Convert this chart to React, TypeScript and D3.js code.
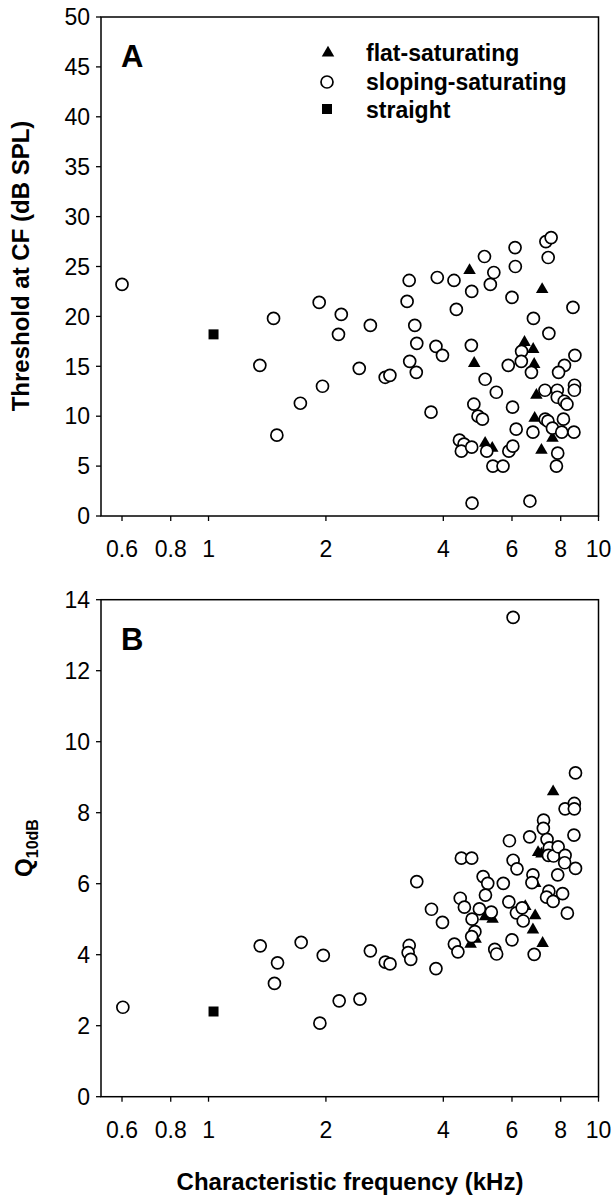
import React from 'react';
import * as d3 from 'd3';

// ---------- data ----------
const xTickValues = [0.6, 0.8, 1, 2, 4, 6, 8, 10];
const xTickLabels = ['0.6', '0.8', '1', '2', '4', '6', '8', '10'];
const thresholdTicks = [0, 5, 10, 15, 20, 25, 30, 35, 40, 45, 50];
const q10Ticks = [0, 2, 4, 6, 8, 10, 12, 14];
const legendLabels = ['flat-saturating', 'sloping-saturating', 'straight'];

// [characteristic frequency (kHz), threshold at CF (dB SPL)]
const flatThreshold: [number, number][] = [
  [4.67, 24.6], [7.17, 22.7], [4.8, 15.3], [6.46, 17.4], [6.8, 16.7], [6.84, 15.2],
  [6.93, 12.1], [6.86, 9.8], [7.62, 7.8], [7.14, 6.6], [5.12, 7.3], [5.34, 6.8],
];
const slopingThreshold: [number, number][] = [
  [0.6, 23.2], [1.354, 15.1], [1.468, 19.8], [1.497, 8.1], [1.72, 11.3], [1.922, 21.4],
  [1.96, 13.0], [2.154, 18.2], [2.19, 20.2], [2.435, 14.8], [2.6, 19.1], [2.838, 13.9],
  [2.918, 14.1], [3.27, 23.6], [3.23, 21.5], [3.38, 19.1], [3.42, 17.3], [3.28, 15.5],
  [3.41, 14.4], [3.86, 23.9], [4.26, 23.6], [3.83, 17.0], [3.98, 16.1], [3.72, 10.4],
  [4.32, 20.7], [5.1, 26.0], [4.73, 22.5], [5.39, 24.4], [5.28, 23.2], [4.72, 17.1],
  [5.12, 13.7], [5.47, 12.4], [4.79, 11.2], [4.91, 10.0], [5.04, 9.7], [4.4, 7.6],
  [4.52, 7.2], [4.45, 6.5], [4.73, 6.9], [5.17, 6.5], [5.36, 5.0], [5.69, 5.0],
  [5.89, 6.5], [6.03, 7.0], [4.74, 1.3], [6.67, 1.5], [6.11, 26.9], [6.12, 25.0],
  [6.0, 21.9], [6.81, 19.8], [6.35, 16.5], [6.34, 15.5], [5.87, 15.1], [6.73, 14.4],
  [6.02, 10.9], [6.15, 8.7], [6.79, 8.4], [7.33, 27.5], [7.56, 27.9], [7.43, 25.9],
  [7.46, 18.3], [8.6, 20.9], [8.7, 16.1], [8.18, 15.1], [7.9, 14.4], [7.29, 12.6],
  [7.84, 12.6], [7.84, 11.9], [8.17, 11.5], [8.3, 11.2], [8.68, 13.1], [8.67, 12.6],
  [7.3, 9.7], [7.42, 9.5], [7.62, 8.8], [8.13, 9.7], [8.05, 8.4], [8.65, 8.4],
  [7.86, 6.3], [7.8, 5.0],
];
const straightThreshold: [number, number][] = [[1.03, 18.2]];

// [characteristic frequency (kHz), Q10dB]
const flatQ10: [number, number][] = [
  [7.65, 8.59], [7.0, 6.88], [7.14, 6.84], [6.88, 5.1], [6.79, 4.7], [7.19, 4.32],
  [5.12, 5.07], [5.35, 5.0], [4.7, 4.3], [6.49, 5.36], [4.84, 4.44], [6.88, 6.01],
];
const slopingQ10: [number, number][] = [
  [0.603, 2.52], [1.357, 4.25], [1.503, 3.77], [1.476, 3.19], [1.728, 4.35], [1.969, 3.98],
  [1.93, 2.07], [2.163, 2.7], [2.445, 2.75], [2.6, 4.11], [2.84, 3.79], [2.92, 3.74],
  [3.27, 4.26], [3.25, 4.06], [3.3, 3.87], [3.42, 6.06], [3.83, 3.61], [3.73, 5.28],
  [3.98, 4.91], [4.27, 4.3], [4.36, 4.08], [4.45, 6.72], [4.73, 6.72], [4.42, 5.59],
  [4.53, 5.34], [4.74, 5.0], [4.82, 4.65], [4.73, 4.51], [4.95, 5.29], [5.06, 6.2],
  [5.2, 6.01], [5.13, 5.68], [5.31, 5.2], [5.42, 4.15], [5.48, 4.02], [5.7, 6.01],
  [5.89, 5.49], [6.0, 4.42], [5.91, 7.21], [6.04, 6.66], [6.18, 6.42], [6.16, 5.18],
  [6.37, 5.32], [6.41, 4.95], [6.66, 7.32], [6.79, 6.25], [6.75, 6.03], [6.84, 4.01],
  [7.23, 7.79], [7.22, 7.56], [7.38, 7.25], [7.48, 7.01], [7.44, 6.8], [7.67, 6.78],
  [7.88, 7.04], [8.21, 6.8], [8.19, 6.59], [7.86, 6.25], [8.73, 6.43], [8.65, 7.37],
  [8.21, 8.11], [8.67, 8.26], [8.67, 8.11], [7.46, 5.79], [7.36, 5.62], [7.65, 5.5],
  [8.09, 5.72], [8.32, 5.17], [8.73, 9.12], [6.04, 13.5],
];
const straightQ10: [number, number][] = [[1.03, 2.4]];

// ---------- layout ----------
const W = 614;
const H = 1200;
const LEFT = 101;
const RIGHT = 598.5;
const FONT = '"Liberation Sans", Arial, Helvetica, sans-serif';

const x = d3.scaleLog().domain([0.53, 10]).range([LEFT, RIGHT]);
const yA = d3.scaleLinear().domain([0, 50]).range([516, 17]);
const yB = d3.scaleLinear().domain([0, 14]).range([1096.7, 599.7]);

const triPath = d3.symbol().type(d3.symbolTriangle).size(68)() as string;
const sqPath = d3.symbol().type(d3.symbolSquare).size(100)() as string;
const CIRCLE_R = 6;

type Pt = [number, number];

function Markers({ flat, sloping, straight, y }: { flat: Pt[]; sloping: Pt[]; straight: Pt[]; y: d3.ScaleLinear<number, number> }) {
  return (
    <g>
      {flat.map((d, i) => (
        <path key={'t' + i} d={triPath} transform={`translate(${x(d[0])},${y(d[1])})`} fill="#000" />
      ))}
      {sloping.map((d, i) => (
        <circle key={'c' + i} cx={x(d[0])} cy={y(d[1])} r={CIRCLE_R} fill="#fff" stroke="#000" strokeWidth={1.7} />
      ))}
      {straight.map((d, i) => (
        <path key={'s' + i} d={sqPath} transform={`translate(${x(d[0])},${y(d[1])})`} fill="#000" />
      ))}
    </g>
  );
}

function Axes({ y, ticks }: { y: d3.ScaleLinear<number, number>; ticks: number[] }) {
  const [y0, y1] = y.range();
  const bottom = y0;
  const top = y1;
  return (
    <g fontFamily={FONT}>
      <rect x={LEFT} y={top} width={RIGHT - LEFT} height={bottom - top} fill="none" stroke="#000" strokeWidth={1.5} />
      {ticks.map((t) => (
        <g key={'y' + t}>
          <line x1={LEFT - 5} x2={LEFT} y1={y(t)} y2={y(t)} stroke="#000" strokeWidth={1.3} />
          <text x={90} y={y(t)} dy="0.36em" textAnchor="end" fontSize={23} fill="#000">{t}</text>
        </g>
      ))}
      {xTickValues.map((v, i) => (
        <g key={'x' + v}>
          <line x1={x(v)} x2={x(v)} y1={bottom} y2={bottom + 5} stroke="#000" strokeWidth={1.3} />
          <text x={x(v)} y={bottom + 41} textAnchor="middle" fontSize={23} fill="#000">{xTickLabels[i]}</text>
        </g>
      ))}
    </g>
  );
}

export default function App() {
  return (
    <svg width={W} height={H} viewBox={`0 0 ${W} ${H}`} style={{ position: 'absolute', left: 0, top: 0, background: '#fff' }}>
      <rect x={0} y={0} width={W} height={H} fill="#fff" />

      {/* Panel A */}
      <Axes y={yA} ticks={thresholdTicks} />
      <Markers flat={flatThreshold} sloping={slopingThreshold} straight={straightThreshold} y={yA} />
      <text x={121} y={67} fontFamily={FONT} fontWeight="bold" fontSize={31}>A</text>
      <text transform="translate(29,266) rotate(-90)" textAnchor="middle" fontFamily={FONT} fontWeight="bold" fontSize={24}>
        Threshold at CF (dB SPL)
      </text>

      {/* legend */}
      <g fontFamily={FONT} fontWeight="bold" fontSize={23}>
        <path d={triPath} transform="translate(328,53)" fill="#000" />
        <text x={366} y={61}>{legendLabels[0]}</text>
        <circle cx={327} cy={82} r={CIRCLE_R} fill="#fff" stroke="#000" strokeWidth={1.7} />
        <text x={366} y={90}>{legendLabels[1]}</text>
        <path d={sqPath} transform="translate(327,109)" fill="#000" />
        <text x={366} y={118}>{legendLabels[2]}</text>
      </g>

      {/* Panel B */}
      <Axes y={yB} ticks={q10Ticks} />
      <Markers flat={flatQ10} sloping={slopingQ10} straight={straightQ10} y={yB} />
      <text x={121} y={650} fontFamily={FONT} fontWeight="bold" fontSize={31}>B</text>
      <text transform="translate(32,848) rotate(-90)" textAnchor="middle" fontFamily={FONT} fontWeight="bold" fontSize={24}>
        Q<tspan fontSize={16} dy={6}>10dB</tspan>
      </text>

      <text x={350} y={1190} textAnchor="middle" fontFamily={FONT} fontWeight="bold" fontSize={24}>
        Characteristic frequency (kHz)
      </text>
    </svg>
  );
}
